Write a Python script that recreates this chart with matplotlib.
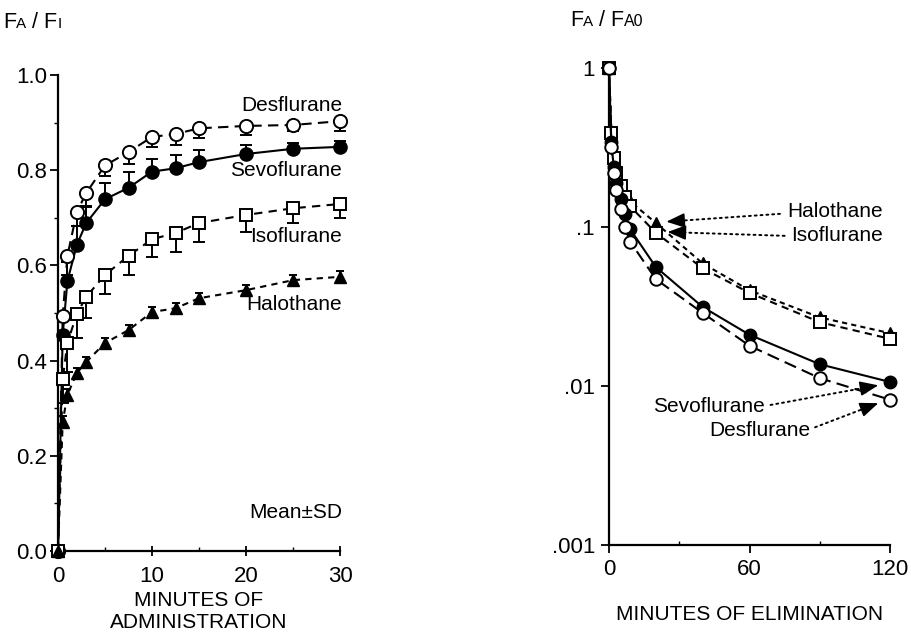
import numpy as np
import matplotlib
matplotlib.use("Agg")
import matplotlib.pyplot as plt
from matplotlib.offsetbox import TextArea, HPacker, AnnotationBbox

plt.rcParams['font.family'] = ['Liberation Sans', 'DejaVu Sans']

# ---------------- data: uptake (left panel) ----------------
t_admin = [0, 0.5, 1, 2, 3, 5, 7.5, 10, 12.5, 15, 20, 25, 30]
des_up = [0, 0.494, 0.62, 0.712, 0.752, 0.81, 0.838, 0.87, 0.876, 0.888, 0.893, 0.895, 0.903]
des_sd = [0, 0.04, 0.04, 0.03, 0.03, 0.022, 0.024, 0.022, 0.024, 0.02, 0.02, 0.012, 0.02]
sevo_up = [0, 0.454, 0.567, 0.643, 0.689, 0.739, 0.763, 0.797, 0.804, 0.817, 0.834, 0.845, 0.849]
sevo_sd = [0, 0.04, 0.04, 0.04, 0.035, 0.035, 0.034, 0.026, 0.028, 0.025, 0.018, 0.012, 0.012]
iso_up = [0, 0.361, 0.437, 0.498, 0.534, 0.58, 0.62, 0.655, 0.668, 0.689, 0.706, 0.72, 0.729]
iso_sd = [0, 0.05, 0.06, 0.05, 0.045, 0.04, 0.04, 0.038, 0.04, 0.04, 0.036, 0.03, 0.03]
halo_up = [0, 0.271, 0.328, 0.374, 0.397, 0.437, 0.464, 0.502, 0.51, 0.531, 0.548, 0.569, 0.576]
halo_sd = [0, 0.012, 0.012, 0.01, 0.01, 0.01, 0.01, 0.01, 0.01, 0.01, 0.01, 0.01, 0.012]

# ---------------- data: elimination (right panel) ----------------
t_elim = [0, 1, 2, 3, 5, 7, 9, 20, 40, 60, 90, 120]
des_el = [1, 0.32, 0.22, 0.17, 0.13, 0.10, 0.081, 0.047, 0.0288, 0.0179, 0.0112, 0.0082]
sevo_el = [1, 0.34, 0.24, 0.19, 0.15, 0.12, 0.097, 0.056, 0.0314, 0.021, 0.0137, 0.0106]
iso_el = [1, 0.39, 0.27, 0.22, 0.18, 0.155, 0.135, 0.092, 0.055, 0.0385, 0.0252, 0.0198]
halo_el = [1, 0.40, 0.28, 0.23, 0.19, 0.165, 0.145, 0.106, 0.059, 0.040, 0.027, 0.0215]

FS = 15
TFS = 16
W, H = 911, 634
fig = plt.figure(figsize=(W / 100, H / 100), dpi=100)

def fx(px):
    return px / W

def fy(py):
    return 1 - py / H

# ================= LEFT PANEL =================
axL = fig.add_axes([fx(58), fy(551), fx(340) - fx(58), fy(75) - fy(551)])
zeros = np.zeros(len(t_admin))
lw = 1.5

axL.errorbar(t_admin, des_up, yerr=[des_sd, zeros], fmt='o', mfc='white', mec='black', mew=1.4,
             ms=9.5, ecolor='black', elinewidth=1.4, capsize=4, capthick=1.4, zorder=3, clip_on=False)
axL.plot(t_admin, des_up, color='black', lw=lw, ls=(0, (5, 3)), zorder=2, clip_on=False)

axL.errorbar(t_admin, sevo_up, yerr=[zeros, sevo_sd], fmt='o', mfc='black', mec='black',
             ms=9.5, ecolor='black', elinewidth=1.4, capsize=4, capthick=1.4, zorder=3, clip_on=False)
axL.plot(t_admin, sevo_up, color='black', lw=lw, ls='-', zorder=2, clip_on=False)

axL.errorbar(t_admin, iso_up, yerr=[iso_sd, zeros], fmt='s', mfc='white', mec='black', mew=1.4,
             ms=8, ecolor='black', elinewidth=1.4, capsize=4, capthick=1.4, zorder=3, clip_on=False)
axL.plot(t_admin, iso_up, color='black', lw=lw, ls=(0, (4, 3)), zorder=2, clip_on=False)

axL.errorbar(t_admin, halo_up, yerr=[halo_sd, halo_sd], fmt='^', mfc='black', mec='black',
             ms=9, ecolor='black', elinewidth=1.4, capsize=3, capthick=1.4, zorder=3, clip_on=False)
axL.plot(t_admin, halo_up, color='black', lw=lw, ls=(0, (3, 2.5)), zorder=2, clip_on=False)

axL.set_xlim(0, 30)
axL.set_ylim(0, 1.0)
axL.set_xticks([0, 10, 20, 30])
axL.set_xticks([5, 15, 25], minor=True)
axL.set_yticks([0, 0.2, 0.4, 0.6, 0.8, 1.0])
axL.set_yticks([0.1, 0.3, 0.5, 0.7, 0.9], minor=True)
axL.set_yticklabels(['0.0', '0.2', '0.4', '0.6', '0.8', '1.0'])
for s in ['top', 'right']:
    axL.spines[s].set_visible(False)
for s in ['left', 'bottom']:
    axL.spines[s].set_linewidth(1.6)
axL.tick_params(axis='y', which='major', direction='out', length=6, width=1.3, labelsize=TFS, pad=2)
axL.tick_params(axis='y', which='minor', direction='out', length=3, width=1)
axL.tick_params(axis='x', which='major', direction='inout', length=7, width=1.3, labelsize=TFS, pad=7)
axL.tick_params(axis='x', which='minor', direction='in', length=3, width=1)
axL.set_xlabel('MINUTES OF\nADMINISTRATION', fontsize=FS, linespacing=1.2, labelpad=3)

axL.text(30.2, 0.935, 'Desflurane', ha='right', va='center', fontsize=FS)
axL.text(30.2, 0.800, 'Sevoflurane', ha='right', va='center', fontsize=FS)
axL.text(30.2, 0.661, 'Isoflurane', ha='right', va='center', fontsize=FS)
axL.text(30.2, 0.518, 'Halothane', ha='right', va='center', fontsize=FS)
axL.text(30.2, 0.080, 'Mean\u00b1SD', ha='right', va='center', fontsize=FS)

# ================= RIGHT PANEL =================
axR = fig.add_axes([fx(609), fy(545), fx(890) - fx(609), fy(68) - fy(545)])
axR.set_yscale('log')
axR.plot(t_elim, halo_el, color='black', lw=lw, ls=(0, (2.5, 2)), marker='^', mfc='black',
         mec='black', ms=8.5, zorder=3, clip_on=False)
axR.plot(t_elim, iso_el, color='black', lw=lw, ls=(0, (3.5, 2.5)), marker='s', mfc='white',
         mec='black', mew=1.4, ms=8, zorder=3, clip_on=False)
axR.plot(t_elim, sevo_el, color='black', lw=lw, ls='-', marker='o', mfc='black',
         mec='black', ms=9, zorder=4, clip_on=False)
axR.plot(t_elim, des_el, color='black', lw=lw, ls=(0, (6, 3)), marker='o', mfc='white',
         mec='black', mew=1.4, ms=9, zorder=4, clip_on=False)

axR.set_xlim(0, 120)
axR.set_ylim(0.001, 1)
axR.set_xticks([0, 60, 120])
axR.set_xticks([30, 90], minor=True)
axR.set_yticks([0.001, 0.01, 0.1, 1])
axR.set_yticklabels(['.001', '.01', '.1', '1'])
axR.yaxis.set_minor_locator(matplotlib.ticker.NullLocator())
for s in ['top', 'right']:
    axR.spines[s].set_visible(False)
for s in ['left', 'bottom']:
    axR.spines[s].set_linewidth(1.6)
axR.tick_params(axis='y', which='major', direction='out', length=6, width=1.3, labelsize=TFS, pad=4)
axR.tick_params(axis='x', which='major', direction='out', length=6, width=1.3, labelsize=TFS, pad=4)
axR.tick_params(axis='x', which='minor', direction='in', length=3, width=1)
axR.set_xlabel('MINUTES OF ELIMINATION', fontsize=FS, labelpad=18)

def pointer(ax, label, text_xy, start_xy, target_xy):
    ax.text(text_xy[0], text_xy[1], label, ha='right', va='center', fontsize=FS)
    # dotted shaft
    ax.annotate('', xy=target_xy, xytext=start_xy,
                arrowprops=dict(arrowstyle='-', linestyle=(0, (1, 2)), lw=1.4,
                                color='black', shrinkA=0, shrinkB=4))
    # solid head, pointing along the shaft
    p0 = ax.transData.transform(start_xy)
    p1 = ax.transData.transform(target_xy)
    d = (p0 - p1) / np.hypot(*(p0 - p1))
    off = d * 12 * 72 / fig.dpi
    ax.annotate('', xy=target_xy, xytext=(off[0], off[1]), textcoords='offset points',
                arrowprops=dict(arrowstyle='-|>,head_length=0.7,head_width=0.28',
                                lw=1.2, color='black', mutation_scale=16,
                                shrinkA=0, shrinkB=0))

pointer(axR, 'Halothane', (117, 0.126), (73, 0.121), (24.5, 0.108))
pointer(axR, 'Isoflurane', (117, 0.0878), (75, 0.088), (25, 0.093))
pointer(axR, 'Sevoflurane', (66.6, 0.00738), (69, 0.0076), (115, 0.0101))
pointer(axR, 'Desflurane', (85.8, 0.00528), (88, 0.0055), (115, 0.0078))

# ================= small-caps axis titles =================
def smallcaps(parts, xy):
    boxes = [TextArea(t, textprops=dict(fontsize=s)) for t, s in parts]
    pack = HPacker(children=boxes, align='baseline', pad=0, sep=0)
    ab = AnnotationBbox(pack, xy, xycoords='figure fraction', box_alignment=(0, 0.5),
                        frameon=False, pad=0)
    fig.add_artist(ab)

smallcaps([('F', 15.5), ('A', 11), (' / F', 15.5), ('I', 11)], (fx(3), fy(22)))
smallcaps([('F', 15.5), ('A', 11), (' / F', 15.5), ('A0', 11.5)], (fx(570), fy(21)))

fig.savefig('out.png', dpi=100)
